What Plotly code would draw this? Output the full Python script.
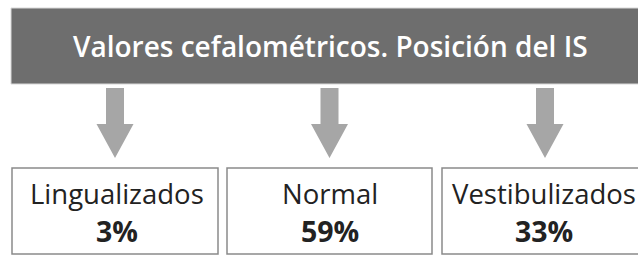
import plotly.graph_objects as go

title = "Valores cefalométricos. Posición del IS"
categories = ["Lingualizados", "Normal", "Vestibulizados"]
percentages = [3, 59, 33]

W, H = 638, 255
centers = [115, 329.5, 545]
text_centers = [117, 330, 544]
box_lefts = [12, 227, 442]
box_rights = [218, 432, 650]

fig = go.Figure()
shapes = []
annotations = []

# banner
shapes.append(dict(type="rect", x0=11, x1=W + 5, y0=8, y1=84,
                   fillcolor="#6e6e6e", line=dict(color="#d8d8d8", width=1), layer="below"))
annotations.append(dict(x=330, y=46, text=title, showarrow=False, xanchor="center", yanchor="middle",
                        font=dict(family="Open Sans", size=28, color="white", weight=600)))

for i, (cat, pct) in enumerate(zip(categories, percentages)):
    c = centers[i]
    path = (f"M {c-9},88 L {c+9},88 L {c+9},124 L {c+18.5},124 L {c},158 "
            f"L {c-18.5},124 L {c-9},124 Z")
    shapes.append(dict(type="path", path=path, fillcolor="#a6a6a6", line=dict(width=0)))
    shapes.append(dict(type="rect", x0=box_lefts[i], x1=box_rights[i], y0=168, y1=254,
                       fillcolor="white", line=dict(color="#8a8a8a", width=1.5)))
    annotations.append(dict(x=text_centers[i], y=193, text=cat, showarrow=False,
                            xanchor="center", yanchor="middle",
                            font=dict(family="Open Sans", size=27.5, color="#222222")))
    annotations.append(dict(x=text_centers[i], y=231, text=f"<b>{pct}%</b>", showarrow=False,
                            xanchor="center", yanchor="middle",
                            font=dict(family="Open Sans", size=28.5, color="#222222")))

fig.update_layout(width=W, height=H, margin=dict(l=0, r=0, t=0, b=0),
                  paper_bgcolor="white", plot_bgcolor="white",
                  shapes=shapes, annotations=annotations, showlegend=False,
                  xaxis=dict(range=[0, W], visible=False, fixedrange=True),
                  yaxis=dict(range=[H, 0], visible=False, fixedrange=True))
fig.write_html("out.html", config={"displayModeBar": False},
               post_script="document.body.style.margin='0px';document.body.style.overflow='hidden';")
